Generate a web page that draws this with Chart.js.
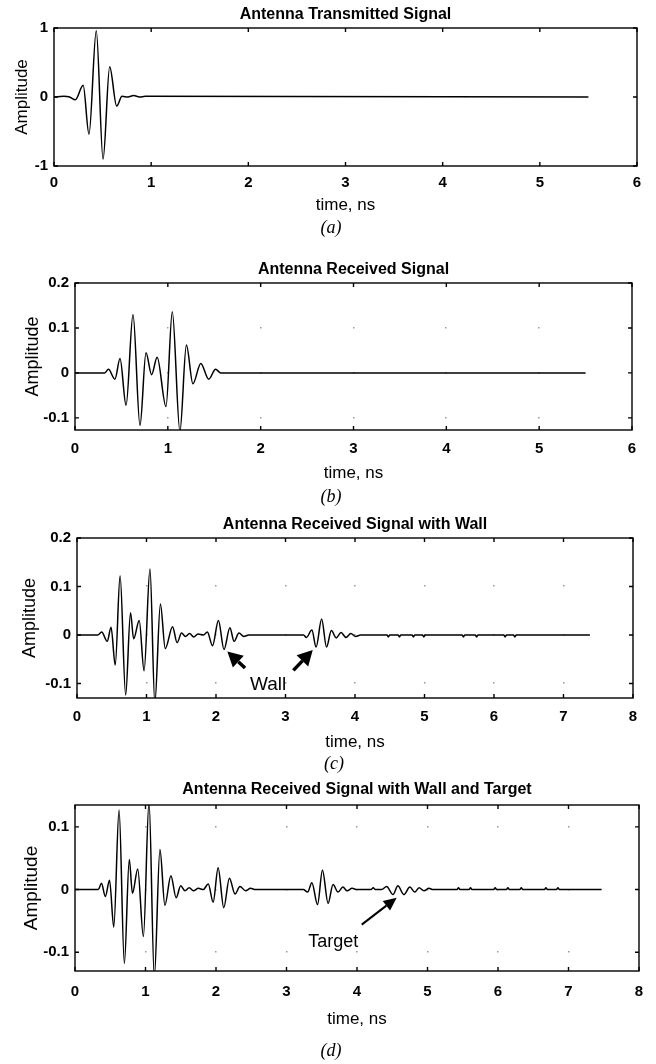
<!DOCTYPE html>
<html>
<head>
<meta charset="utf-8">
<script src="https://cdn.jsdelivr.net/npm/chart.js@4.4.0/dist/chart.umd.min.js"></script>
<style>
  html, body { margin: 0; padding: 0; background: #fff; }
  #page { position: relative; width: 656px; height: 1064px; overflow: hidden; background: #fff; }
  #page canvas { position: absolute; left: 0; }
  .cap { position: absolute; transform: translate(-50%, -50%); font: italic 18px "Liberation Serif", "Times New Roman", serif; color: #000; }
</style>
</head>
<body>
<div id="page"></div>
<script>
// (a) transmitted pulse, time in ns
const tSent = [0, 0.10, 0.16, 0.22, 0.30, 0.36, 0.435, 0.505, 0.573, 0.645,
               0.70, 0.76, 0.82, 0.88, 0.94, 5.5];
const ampSent = [0, 0.01, 0, -0.04, 0.17, -0.54, 0.96, -0.90, 0.44, -0.13,
                 0.01, 0, 0.02, 0, 0.01, 0];

// (b) received, no wall
const tRecv = [0, 0.32, 0.36, 0.43, 0.485, 0.55, 0.625, 0.70, 0.765, 0.825,
               0.885, 0.98, 1.048, 1.13, 1.20, 1.27, 1.355, 1.44, 1.515, 1.57,
               5.5];
const ampRecv = [0, 0, 0.008, -0.014, 0.032, -0.072, 0.130, -0.117, 0.045, -0.004,
                 0.035, -0.075, 0.136, -0.130, 0.062, -0.024, 0.021, -0.014, 0.008, 0,
                 0];

// (c) received with wall
const tWall = [0, 0.30, 0.355, 0.435, 0.49, 0.55, 0.62, 0.70, 0.77, 0.815,
               0.895, 0.965, 1.05, 1.12, 1.20, 1.27, 1.375, 1.44, 1.505, 1.56,
               1.62, 1.68, 1.74, 1.82, 1.875, 1.95, 2.035, 2.115, 2.20, 2.26,
               2.33, 2.40, 2.47, 3.26, 3.30, 3.38, 3.44, 3.52, 3.59, 3.66,
               3.73, 3.80, 3.87, 3.94, 4.01, 4.08, 4.46, 4.48, 4.50, 4.62,
               4.64, 4.66, 4.82, 4.84, 4.86, 4.97, 4.99, 5.01, 5.54, 5.56,
               5.58, 5.73, 5.75, 5.77, 6.14, 6.16, 6.18, 6.28, 6.30, 6.32,
               7.38];
const ampWall = [0, 0, 0.006, -0.013, 0.016, -0.062, 0.122, -0.124, 0.046, -0.008,
                 0.030, -0.074, 0.136, -0.140, 0.064, -0.028, 0.017, -0.016, 0.004, -0.003,
                 0.003, -0.004, 0.002, 0, 0.006, -0.022, 0.030, -0.030, 0.015, -0.013,
                 0.004, -0.003, 0, 0, -0.005, 0.010, -0.025, 0.033, -0.025, 0.009,
                 -0.006, 0.005, -0.005, 0.003, -0.003, 0, 0, -0.004, 0, 0,
                 -0.004, 0, 0, -0.004, 0, 0, -0.004, 0, 0, -0.004,
                 0, 0, -0.004, 0, 0, -0.004, 0, 0, -0.004, 0,
                 0];

// (d) received with wall and target
const tTarget = [0, 0.33, 0.375, 0.43, 0.49, 0.55, 0.625, 0.70, 0.77, 0.815,
                 0.89, 0.97, 1.05, 1.125, 1.205, 1.275, 1.36, 1.435, 1.50, 1.56,
                 1.62, 1.68, 1.75, 1.82, 1.89, 1.96, 2.03, 2.11, 2.19, 2.27,
                 2.34, 2.42, 2.49, 2.56, 3.24, 3.30, 3.36, 3.44, 3.51, 3.59,
                 3.66, 3.73, 3.80, 3.86, 3.93, 4.00, 4.20, 4.23, 4.26, 4.35,
                 4.42, 4.51, 4.58, 4.665, 4.75, 4.82, 4.88, 4.95, 5.02, 5.08,
                 5.42, 5.44, 5.46, 5.59, 5.61, 5.63, 5.94, 5.96, 5.98, 6.12,
                 6.14, 6.16, 6.31, 6.33, 6.35, 6.66, 6.68, 6.70, 6.83, 6.85,
                 6.87, 7.47];
const ampTarget = [0, 0, 0.010, -0.011, 0.015, -0.060, 0.127, -0.118, 0.048, -0.006,
                   0.033, -0.075, 0.140, -0.140, 0.064, -0.025, 0.022, -0.013, 0.006, -0.002,
                   0.003, -0.002, 0.002, 0, 0.009, -0.020, 0.035, -0.029, 0.018, -0.007,
                   0.005, -0.002, 0.002, 0, 0, -0.004, 0.011, -0.024, 0.031, -0.022,
                   0.008, -0.004, 0.004, -0.002, 0.002, 0, 0, 0.003, 0, 0,
                   0.005, -0.008, 0.006, -0.008, 0.004, -0.004, 0.003, -0.002, 0.002, 0,
                   0, 0.003, 0, 0, 0.003, 0, 0, 0.003, 0, 0,
                   0.003, 0, 0, 0.003, 0, 0, 0.003, 0, 0, 0.003,
                   0, 0];

const ticksX6 = [0, 1, 2, 3, 4, 5, 6];
const ticksX8 = [0, 1, 2, 3, 4, 5, 6, 7, 8];
const ticksYa = [-1, 0, 1];
const ticksYb = [-0.1, 0, 0.1, 0.2];
const ticksYc = [-0.1, 0, 0.1, 0.2];
const ticksYd = [-0.1, 0, 0.1];

const titles = ['Antenna Transmitted Signal', 'Antenna Received Signal',
                'Antenna Received Signal with Wall', 'Antenna Received Signal with Wall and Target'];
const captions = ['(a)', '(b)', '(c)', '(d)'];

// arrows: [tail t, tail amp, head t, head amp]
const wallArrows = [[2.418, -0.068, 2.163, -0.034], [3.113, -0.073, 3.392, -0.031]];
const wallNote = ['Wall', 2.75, -0.102];
const targetArrows = [[4.067, -0.056, 4.563, -0.013]];
const targetNote = ['Target', 3.664, -0.083];

// pixel layout of each panel
const boxes = {
  a: { titleY: 15,  plotTop: 28,  plotBottom: 166, left: 54, right: 637, tickY: 183, xlabelY: 205,  ylabelX: 22, ylabSize: 17, capX: 331, capY: 227 },
  b: { titleY: 270, plotTop: 283, plotBottom: 430, left: 75, right: 632, tickY: 449, xlabelY: 473,  ylabelX: 33, ylabSize: 18, capX: 331, capY: 496 },
  c: { titleY: 525, plotTop: 538, plotBottom: 698, left: 77, right: 633, tickY: 717, xlabelY: 742,  ylabelX: 30, ylabSize: 18, capX: 334, capY: 763 },
  d: { titleY: 790, plotTop: 805, plotBottom: 971, left: 75, right: 639, tickY: 992, xlabelY: 1019, ylabelX: 32, ylabSize: 19, capX: 331, capY: 1050 }
};

const F = '"Liberation Sans", Arial, Helvetica, sans-serif';
const page = document.getElementById('page');

function drawArrow(ctx, x0, y0, x1, y1, w, head, half) {
  const ang = Math.atan2(y1 - y0, x1 - x0);
  const bx = x1 - head * Math.cos(ang), by = y1 - head * Math.sin(ang);
  ctx.lineWidth = w;
  ctx.beginPath();
  ctx.moveTo(x0, y0);
  ctx.lineTo(bx, by);
  ctx.stroke();
  ctx.beginPath();
  ctx.moveTo(x1, y1);
  ctx.lineTo(bx + half * Math.sin(ang), by - half * Math.cos(ang));
  ctx.lineTo(bx - half * Math.sin(ang), by + half * Math.cos(ang));
  ctx.closePath();
  ctx.fill();
}

// matlab style box, inward ticks, grid dots and the notes
const frame = {
  id: 'frame',
  beforeDatasetsDraw(chart, args, opts) {
    if (!opts.dots) return;
    const { ctx, chartArea: a, scales: { x, y } } = chart;
    ctx.save();
    ctx.fillStyle = '#9a9a9a';
    x.ticks.forEach(tx => {
      const px = x.getPixelForValue(tx.value);
      if (px <= a.left + 1 || px >= a.right - 1) return;
      y.ticks.forEach(ty => {
        const py = y.getPixelForValue(ty.value);
        if (py <= a.top + 1 || py >= a.bottom - 1) return;
        ctx.fillRect(Math.round(px) - 1, Math.round(py) - 1, 1.5, 1.5);
      });
    });
    ctx.restore();
  },
  afterDatasetsDraw(chart, args, opts) {
    const { ctx, chartArea: a, scales: { x, y } } = chart;
    ctx.save();
    ctx.strokeStyle = '#000';
    ctx.fillStyle = '#000';
    ctx.lineWidth = 1.4;
    ctx.strokeRect(a.left, a.top, a.right - a.left, a.bottom - a.top);
    const tl = 4;
    ctx.beginPath();
    x.ticks.forEach(t => {
      const px = x.getPixelForValue(t.value);
      ctx.moveTo(px, a.bottom); ctx.lineTo(px, a.bottom - tl);
      ctx.moveTo(px, a.top); ctx.lineTo(px, a.top + tl);
    });
    y.ticks.forEach(t => {
      const py = y.getPixelForValue(t.value);
      ctx.moveTo(a.left, py); ctx.lineTo(a.left + tl, py);
      ctx.moveTo(a.right, py); ctx.lineTo(a.right - tl, py);
    });
    ctx.stroke();

    (opts.arrows || []).forEach(ar => {
      drawArrow(ctx, x.getPixelForValue(ar[0]), y.getPixelForValue(ar[1]),
                x.getPixelForValue(ar[2]), y.getPixelForValue(ar[3]),
                opts.arrowWidth, opts.head, opts.half);
    });
    if (opts.note) {
      ctx.font = opts.noteSize + 'px ' + F;
      ctx.textAlign = 'center';
      ctx.textBaseline = 'middle';
      ctx.fillText(opts.note[0], x.getPixelForValue(opts.note[1]), y.getPixelForValue(opts.note[2]));
    }
    ctx.restore();
  }
};

function makeChart(key, times, amps, xTicks, xMax, yTicks, yMin, yMax, title, caption, extra) {
  const b = boxes[key];
  const top = b.titleY - 14;
  const xh = b.xlabelY - b.plotBottom + 12;
  const cv = document.createElement('canvas');
  cv.width = 656;
  cv.height = b.plotBottom + xh - top;
  cv.style.top = top + 'px';
  page.appendChild(cv);

  const cap = document.createElement('div');
  cap.className = 'cap';
  cap.textContent = caption;
  cap.style.left = b.capX + 'px';
  cap.style.top = b.capY + 'px';
  page.appendChild(cap);

  const pts = times.map((t, i) => ({ x: t, y: amps[i] }));
  const fmt = v => String(Math.round(v * 10) / 10);

  return new Chart(cv, {
    type: 'line',
    data: {
      datasets: [{
        data: pts,
        borderColor: '#000',
        borderWidth: 1.5,
        pointRadius: 0,
        fill: false,
        cubicInterpolationMode: 'monotone'
      }]
    },
    options: {
      responsive: false,
      animation: false,
      devicePixelRatio: 1,
      layout: { padding: { left: 0, right: 656 - b.right, top: 0, bottom: 0 } },
      plugins: {
        legend: { display: false },
        tooltip: { enabled: false },
        title: {
          display: true,
          text: title,
          fullSize: false,
          color: '#000',
          font: { family: F, size: 16, weight: 'bold', lineHeight: 1.2 },
          padding: { top: 14 - 9.6, bottom: b.plotTop - b.titleY - 9.6 }
        },
        frame: extra
      },
      scales: {
        x: {
          type: 'linear',
          min: 0,
          max: xMax,
          afterBuildTicks: s => { s.ticks = xTicks.map(v => ({ value: v })); },
          afterFit: s => { s.height = xh; },
          grid: { display: false, drawTicks: false },
          border: { display: false },
          ticks: {
            color: '#000', autoSkip: false, maxRotation: 0,
            padding: b.tickY - b.plotBottom - 9,
            font: { family: F, size: 15, weight: 'bold', lineHeight: 1.2 },
            callback: fmt
          },
          title: {
            display: true, text: 'time, ns', color: '#000',
            font: { family: F, size: 17, lineHeight: 1.2 },
            padding: { top: 0, bottom: 12 - 10.2 }
          }
        },
        y: {
          type: 'linear',
          min: yMin,
          max: yMax,
          afterBuildTicks: s => { s.ticks = yTicks.map(v => ({ value: v })); },
          afterFit: s => { s.width = b.left; },
          grid: { display: false, drawTicks: false },
          border: { display: false },
          ticks: {
            color: '#000', padding: 6,
            font: { family: F, size: 15, weight: 'bold', lineHeight: 1.2 },
            callback: fmt
          },
          title: {
            display: true, text: 'Amplitude', color: '#000',
            font: { family: F, size: b.ylabSize, lineHeight: 1.2 },
            padding: { top: b.ylabelX - b.ylabSize * 0.6, bottom: 0 }
          }
        }
      }
    },
    plugins: [frame]
  });
}

makeChart('a', tSent, ampSent, ticksX6, 6, ticksYa, -1, 1, titles[0], captions[0], { dots: false });
makeChart('b', tRecv, ampRecv, ticksX6, 6, ticksYb, -0.127, 0.2, titles[1], captions[1], { dots: true });
makeChart('c', tWall, ampWall, ticksX8, 8, ticksYc, -0.13, 0.2, titles[2], captions[2],
  { dots: true, arrows: wallArrows, note: wallNote, noteSize: 19, arrowWidth: 3.5, head: 15, half: 8 });
makeChart('d', tTarget, ampTarget, ticksX8, 8, ticksYd, -0.13, 0.135, titles[3], captions[3],
  { dots: true, arrows: targetArrows, note: targetNote, noteSize: 18, arrowWidth: 2, head: 13, half: 6 });
</script>
</body>
</html>
